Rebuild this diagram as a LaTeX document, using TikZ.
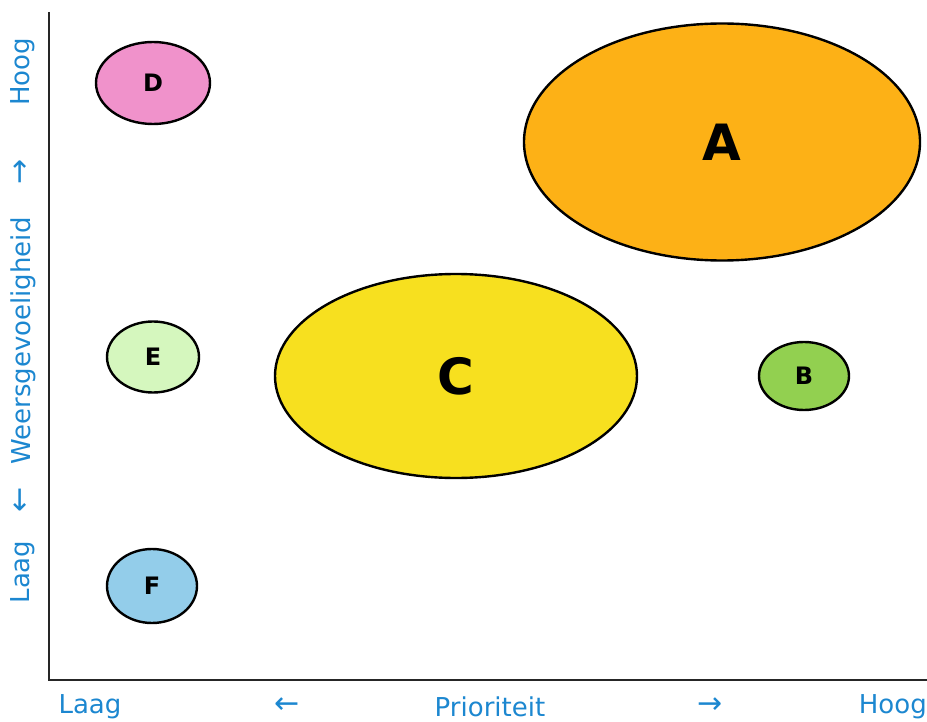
\documentclass[tikz,border=0pt]{standalone}
\usepackage{fontspec}
\setmainfont{DejaVu Sans}
\usetikzlibrary{shapes.geometric}
\definecolor{axisblue}{HTML}{1C87D0}
\definecolor{fillA}{HTML}{FDB116}
\definecolor{fillB}{HTML}{92D050}
\definecolor{fillC}{HTML}{F7E01F}
\definecolor{fillD}{HTML}{F092CB}
\definecolor{fillE}{HTML}{D5F7BE}
\definecolor{fillF}{HTML}{93CDEA}
\begin{document}
\begin{tikzpicture}[x=1pt,y=-1pt,
  blob/.style={ellipse,draw=black,line width=2.4pt,inner sep=0pt},
  bigletter/.style={font=\bfseries\fontsize{50}{54}\selectfont},
  smallletter/.style={font=\bfseries\fontsize{24}{28}\selectfont},
  axislabel/.style={text=axisblue,font=\fontsize{26}{30}\selectfont,inner sep=0pt},
  arrowlabel/.style={text=axisblue,font=\fontsize{30}{34}\selectfont,inner sep=0pt},
  axisline/.style={draw=black!85,line width=2.6pt}]
\useasboundingbox (0,0) rectangle (927,722);
% axes
\coordinate (top) at (49,12);
\coordinate (origin) at (49,680);
\coordinate (right) at (927,680);
\draw[axisline] (top) -- (origin) -- (right);
% bubbles
\node[blob,fill=fillA,minimum width=396pt,minimum height=237pt,bigletter] (A) at (722,142) {A};
\node[blob,fill=fillC,minimum width=362pt,minimum height=204pt,bigletter] (C) at (456,376) {C};
\node[blob,fill=fillB,minimum width=90pt,minimum height=68pt,smallletter] (B) at (804,376) {B};
\node[blob,fill=fillD,minimum width=114pt,minimum height=82pt,smallletter] (D) at (153,83) {D};
\node[blob,fill=fillE,minimum width=92pt,minimum height=71pt,smallletter] (E) at (153,357) {E};
\node[blob,fill=fillF,minimum width=90pt,minimum height=74pt,smallletter] (F) at (152,586) {F};
% horizontal axis labels
\node[axislabel] (xlow) at (90,707) {Laag};
\node[arrowlabel] (xl) at (287,706) {←};
\node[axislabel] (xname) at (490,707) {Prioriteit};
\node[arrowlabel] (xr) at (710,706) {→};
\node[axislabel,anchor=east] (xhigh) at (927,707) {Hoog};
% vertical axis labels
\node[axislabel,rotate=90] (yhigh) at (23,72) {Hoog};
\node[arrowlabel,rotate=90] (yu) at (22,172) {→};
\node[axislabel,rotate=90] (yname) at (23,341) {Weersgevoeligheid};
\node[arrowlabel,rotate=90] (yd) at (22,500) {←};
\node[axislabel,rotate=90] (ylow) at (23,572) {Laag};
\end{tikzpicture}
\end{document}
